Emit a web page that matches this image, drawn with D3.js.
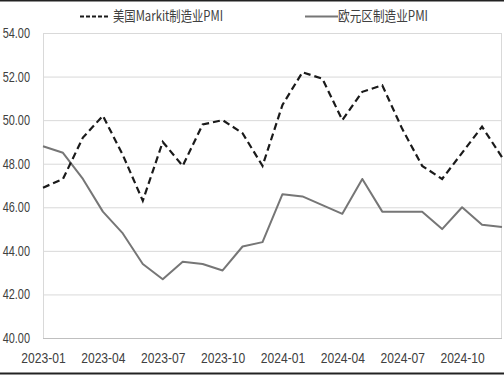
<!DOCTYPE html>
<html>
<head>
<meta charset="utf-8">
<script src="https://cdn.jsdelivr.net/npm/d3@7"></script>
<style>
  body { margin: 0; background: #fff; }
  svg text { font-family: "Liberation Sans", Arial, sans-serif; fill: #404040; }
  .cjk { font-family: "Noto Sans CJK SC", sans-serif; }
</style>
</head>
<body>
<div id="chart"></div>
<script>
var months = ["2023-01","2023-02","2023-03","2023-04","2023-05","2023-06","2023-07","2023-08","2023-09","2023-10","2023-11","2023-12",
              "2024-01","2024-02","2024-03","2024-04","2024-05","2024-06","2024-07","2024-08","2024-09","2024-10","2024-11","2024-12"];
var usPmi = [46.9,47.3,49.2,50.2,48.4,46.3,49.0,47.9,49.8,50.0,49.4,47.9,
             50.7,52.2,51.9,50.0,51.3,51.6,49.6,47.9,47.3,48.5,49.7,48.3];
var euPmi = [48.8,48.5,47.3,45.8,44.8,43.4,42.7,43.5,43.4,43.1,44.2,44.4,
             46.6,46.5,46.1,45.7,47.3,45.8,45.8,45.8,45.0,46.0,45.2,45.1];
var yTicks = [40,42,44,46,48,50,52,54];
var xLabels = ["2023-01","2023-04","2023-07","2023-10","2024-01","2024-04","2024-07","2024-10"];
var seriesNames = ["美国Markit制造业PMI","欧元区制造业PMI"];

var W = 504, H = 375;
var margin = {top: 33, right: 2, bottom: 37, left: 43};
var width = W - margin.left - margin.right,
    height = H - margin.top - margin.bottom;
var squeeze = 0.78; // the original font is condensed

var svg = d3.select("#chart").append("svg").attr("width", W).attr("height", H);

// outer frame lines top / bottom
svg.append("line").attr("x1",0).attr("x2",W).attr("y1",0.5).attr("y2",0.5).attr("stroke","#222").attr("stroke-width",2);
svg.append("line").attr("x1",0).attr("x2",W).attr("y1",373.5).attr("y2",373.5).attr("stroke","#222").attr("stroke-width",2);

var g = svg.append("g").attr("transform", "translate(" + margin.left + "," + margin.top + ")");

var x = d3.scalePoint().domain(months).range([0, width]);
var y = d3.scaleLinear().domain([40, 54]).range([height, 0]);

// grid
g.selectAll(".grid").data(yTicks).enter().append("line")
  .attr("x1", 0).attr("x2", width)
  .attr("y1", function(d){ return y(d) + 0.5; }).attr("y2", function(d){ return y(d) + 0.5; })
  .attr("stroke", function(d){ return d === 40 ? "#bfbfbf" : "#d9d9d9"; }).attr("stroke-width", 1);
g.append("line").attr("x1",0.5).attr("x2",0.5).attr("y1",0).attr("y2",height).attr("stroke","#d9d9d9");
g.append("line").attr("x1",width-0.5).attr("x2",width-0.5).attr("y1",0).attr("y2",height).attr("stroke","#d9d9d9");

// y axis
var yAxis = g.append("g").call(d3.axisLeft(y).tickValues(yTicks).tickSize(0)
  .tickFormat(function(d){ return d3.format(".2f")(d); }));
yAxis.select(".domain").remove();
yAxis.selectAll("text").attr("font-size", 14).attr("fill", "#404040")
  .attr("x", -13 / squeeze).attr("transform", "scale(" + squeeze + ",1)");

// x axis
var xAxis = g.append("g").attr("transform", "translate(0," + height + ")")
  .call(d3.axisBottom(x).tickValues(xLabels).tickSize(0).tickPadding(14));
xAxis.select(".domain").remove();
xAxis.selectAll("text").attr("font-size", 15.5).attr("fill", "#404040")
  .attr("transform", "scale(" + squeeze + ",1)");

var line = d3.line().x(function(d, i){ return x(months[i]); }).y(function(d){ return y(d); });

g.append("path").datum(euPmi).attr("d", line)
  .attr("fill", "none").attr("stroke", "#767676").attr("stroke-width", 2).attr("stroke-linejoin", "round");
g.append("path").datum(usPmi).attr("d", line)
  .attr("fill", "none").attr("stroke", "#1a1a1a").attr("stroke-width", 2.2).attr("stroke-dasharray", "7,4");

// legend
var legend = svg.append("g");
legend.append("line").attr("x1", 80).attr("x2", 108).attr("y1", 16.5).attr("y2", 16.5)
  .attr("stroke", "#1a1a1a").attr("stroke-width", 2).attr("stroke-dasharray", "4,2");
legend.append("text").attr("class","cjk").attr("x", 113).attr("y", 21).attr("font-size", 14)
  .attr("textLength", 110).attr("lengthAdjust", "spacingAndGlyphs").attr("fill","#404040").text(seriesNames[0]);
legend.append("line").attr("x1", 305).attr("x2", 338).attr("y1", 16.5).attr("y2", 16.5)
  .attr("stroke", "#767676").attr("stroke-width", 2);
legend.append("text").attr("class","cjk").attr("x", 338).attr("y", 21).attr("font-size", 14)
  .attr("textLength", 90).attr("lengthAdjust", "spacingAndGlyphs").attr("fill","#404040").text(seriesNames[1]);
</script>
</body>
</html>
